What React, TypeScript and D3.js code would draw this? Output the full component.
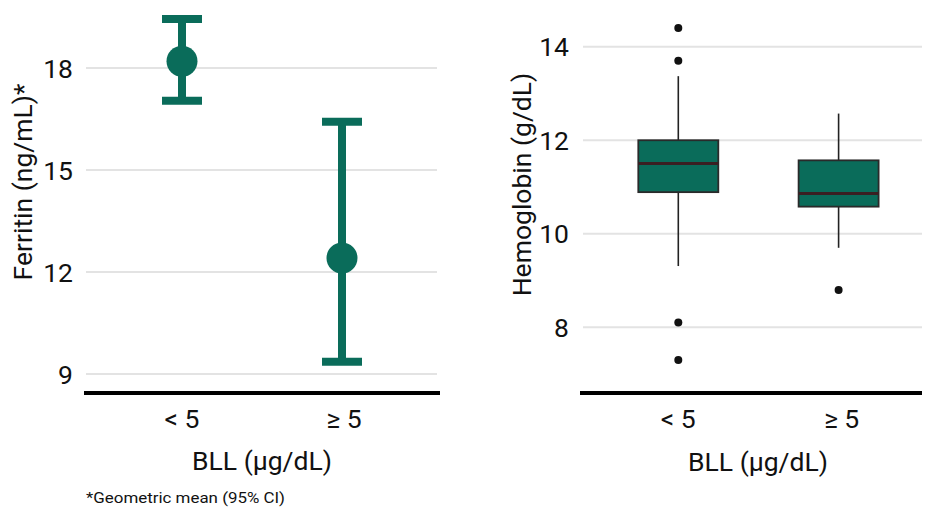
import React from "react";
import * as d3 from "d3";

const categories = ["< 5", "≥ 5"];
// Left: geometric mean ferritin with 95% CI
const ferritinMean = [18.2, 12.41];
const ferritinLow = [17.04, 9.36];
const ferritinHigh = [19.44, 16.42];
const ferritinTicks = [9, 12, 15, 18];
// Right: hemoglobin boxplots
const hbQ1 = [10.89, 10.58];
const hbMedian = [11.5, 10.86];
const hbQ3 = [12.0, 11.57];
const hbWhiskerLow = [9.31, 9.7];
const hbWhiskerHigh = [13.37, 12.57];
const hbOutliers = [[14.4, 13.7, 8.1, 7.3], [8.8]];
const hbTicks = [8, 10, 12, 14];

const GREEN = "#0a6c5a";
const FONT = "Roboto, 'Noto Sans', sans-serif";
const FS = 26.5;

export default function App() {
  // left panel scales
  const yL = d3.scaleLinear().domain([9, 18]).range([374, 68]);
  const xL = d3.scalePoint<string>().domain(categories).range([182, 342]);
  // right panel scales
  const yR = d3.scaleLinear().domain([8, 14]).range([327.3, 46.7]);
  const xR = d3.scalePoint<string>().domain(categories).range([678.3, 838.6]);
  const boxW = 80;

  return (
    <svg width={925} height={509} style={{ position: "absolute", left: 0, top: 0, background: "#fff" }} fontFamily={FONT}>
      {/* LEFT PANEL */}
      {ferritinTicks.map((t) => (
        <g key={"lt" + t}>
          <line x1={86} x2={437} y1={yL(t)} y2={yL(t)} stroke="#e3e3e3" strokeWidth={2} />
          <text x={73} y={yL(t)} dy="0.36em" textAnchor="end" fontSize={FS} fill="#111">{t}</text>
        </g>
      ))}
      <line x1={84} x2={440} y1={393} y2={393} stroke="#000" strokeWidth={4} />
      {categories.map((c, i) => {
        const x = xL(c)!;
        return (
          <g key={"le" + i}>
            <line x1={x} x2={x} y1={yL(ferritinLow[i])} y2={yL(ferritinHigh[i])} stroke={GREEN} strokeWidth={8} />
            <line x1={x - 20} x2={x + 20} y1={yL(ferritinLow[i])} y2={yL(ferritinLow[i])} stroke={GREEN} strokeWidth={8} />
            <line x1={x - 20} x2={x + 20} y1={yL(ferritinHigh[i])} y2={yL(ferritinHigh[i])} stroke={GREEN} strokeWidth={8} />
            <circle cx={x} cy={yL(ferritinMean[i])} r={15.5} fill={GREEN} />
            <text x={x + (i === 1 ? 2 : 0)} y={428} textAnchor="middle" fontSize={FS} fill="#111">{c}</text>
          </g>
        );
      })}
      <text x={262} y={470} textAnchor="middle" fontSize={FS} fill="#111">BLL (µg/dL)</text>
      <text transform="translate(32,182) rotate(-90)" textAnchor="middle" fontSize={FS} fill="#111">Ferritin (ng/mL)*</text>
      <text x={86} y={503} fontSize={15.5} textLength={199} lengthAdjust="spacingAndGlyphs" fill="#111">*Geometric mean (95% CI)</text>

      {/* RIGHT PANEL */}
      {hbTicks.map((t) => (
        <g key={"rt" + t}>
          <line x1={583} x2={922} y1={yR(t)} y2={yR(t)} stroke="#e3e3e3" strokeWidth={2} />
          <text x={569} y={yR(t)} dy="0.36em" textAnchor="end" fontSize={FS} fill="#111">{t}</text>
        </g>
      ))}
      <line x1={580} x2={922} y1={393} y2={393} stroke="#000" strokeWidth={4} />
      {categories.map((c, i) => {
        const x = xR(c)!;
        return (
          <g key={"rb" + i}>
            <line x1={x} x2={x} y1={yR(hbWhiskerLow[i])} y2={yR(hbQ1[i])} stroke="#222" strokeWidth={1.6} />
            <line x1={x} x2={x} y1={yR(hbQ3[i])} y2={yR(hbWhiskerHigh[i])} stroke="#222" strokeWidth={1.6} />
            <rect x={x - boxW / 2} y={yR(hbQ3[i])} width={boxW} height={yR(hbQ1[i]) - yR(hbQ3[i])} fill={GREEN} stroke="#2a2a2a" strokeWidth={1.8} />
            <line x1={x - boxW / 2} x2={x + boxW / 2} y1={yR(hbMedian[i])} y2={yR(hbMedian[i])} stroke="#3a1f22" strokeWidth={3} />
            {hbOutliers[i].map((v, j) => (
              <circle key={j} cx={x} cy={yR(v)} r={4} fill="#111" />
            ))}
            <text x={x + (i === 1 ? 3 : 0)} y={428} textAnchor="middle" fontSize={FS} fill="#111">{c}</text>
          </g>
        );
      })}
      <text x={758} y={471} textAnchor="middle" fontSize={FS} fill="#111">BLL (µg/dL)</text>
      <text transform="translate(531,184.5) rotate(-90)" textAnchor="middle" fontSize={FS} fill="#111">Hemoglobin (g/dL)</text>
    </svg>
  );
}
